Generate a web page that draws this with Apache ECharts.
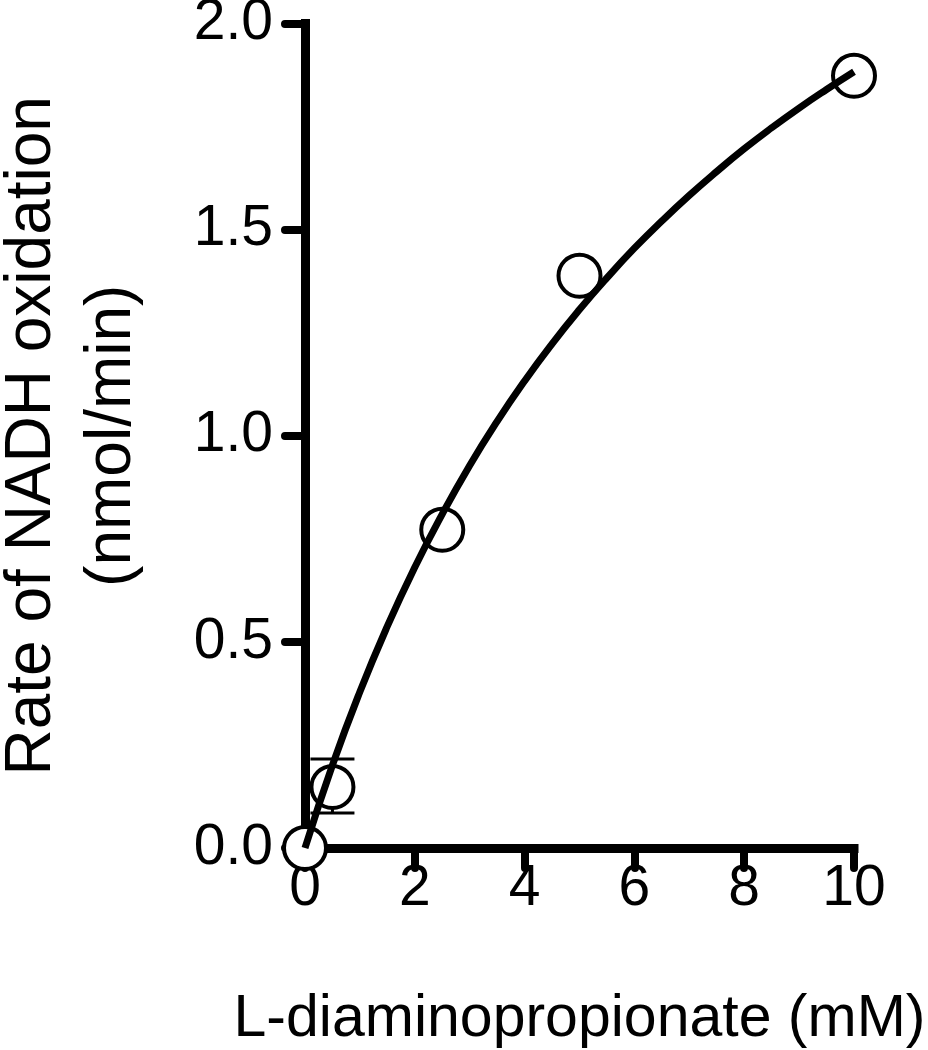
<!DOCTYPE html>
<html>
<head>
<meta charset="utf-8">
<script src="https://cdn.jsdelivr.net/npm/echarts@6/dist/echarts.min.js"></script>
<style>
  html, body { margin: 0; padding: 0; background: #fff; }
  #chart { width: 928px; height: 1050px; }
</style>
</head>
<body>
<div id="chart"></div>
<script>
// measured points (mean) and error bar at 0.5 mM
var concX = [0, 0.5, 2.5, 5, 10];
var rateY = [0, 0.148, 0.772, 1.388, 1.873];
var errBars = [[0.5, 0.085, 0.216]];

// fitted curve
var fitX = [0, 0.5, 1, 1.5, 2, 2.5, 3, 3.5, 4, 4.5, 5, 5.5, 6, 6.5, 7, 7.5, 8, 8.5, 9, 9.5, 10];
var fitY = [0, 0.201, 0.379, 0.538, 0.681, 0.810, 0.928, 1.035, 1.133, 1.223, 1.306,
            1.383, 1.455, 1.521, 1.583, 1.641, 1.696, 1.747, 1.795, 1.840, 1.883];

var xTicks = [0, 2, 4, 6, 8, 10];
var yTicks = [0.0, 0.5, 1.0, 1.5, 2.0];

var FONT = '"Liberation Sans", Arial, sans-serif';

function drawChart(ElementId) {
    var myChart = echarts.init(document.getElementById(ElementId));

    var option = {
        backgroundColor: '#fff',
        animation: false,
        grid: {
            left: 305,
            right: 74,
            top: 23.5,
            bottom: 202,
            containLabel: false,
            outerBoundsMode: 'none'
        },
        xAxis: {
            type: 'value',
            min: xTicks[0],
            max: xTicks[xTicks.length - 1],
            interval: 2,
            name: 'L-diaminopropionate (mM)',
            nameLocation: 'middle',
            nameGap: 142,
            nameTextStyle: { fontFamily: FONT, fontSize: 59, color: '#000' },
            splitLine: { show: false },
            axisLine: { lineStyle: { color: '#000', width: 9, cap: 'square' } },
            axisTick: { length: 20, lineStyle: { color: '#000', width: 8, cap: 'round' } },
            axisLabel: { margin: 13, fontFamily: FONT, fontSize: 57, color: '#000' }
        },
        yAxis: {
            type: 'value',
            min: yTicks[0],
            max: yTicks[yTicks.length - 1],
            interval: 0.5,
            name: 'Rate of NADH oxidation\n(nmol/min)',
            nameLocation: 'middle',
            nameRotate: 90,
            nameGap: 153,
            nameTextStyle: { fontFamily: FONT, fontSize: 64, color: '#000', lineHeight: 80 },
            splitLine: { show: false },
            axisLine: { lineStyle: { color: '#000', width: 9, cap: 'square' } },
            axisTick: { length: 20, lineStyle: { color: '#000', width: 8, cap: 'round' } },
            axisLabel: {
                margin: 32, fontFamily: FONT, fontSize: 57, color: '#000',
                formatter: function (v) { return v.toFixed(1); }
            }
        },
        series: [
            {
                // error bars
                type: 'custom',
                z: 3,
                data: errBars,
                renderItem: function (params, api) {
                    var top = api.coord([api.value(0), api.value(2)]);
                    var bot = api.coord([api.value(0), api.value(1)]);
                    var hw = 22;
                    var st = { stroke: '#000', lineWidth: 3 };
                    return {
                        type: 'group',
                        children: [
                            { type: 'line', shape: { x1: top[0], y1: top[1], x2: bot[0], y2: bot[1] }, style: st },
                            { type: 'line', shape: { x1: top[0] - hw, y1: top[1], x2: top[0] + hw, y2: top[1] }, style: st },
                            { type: 'line', shape: { x1: bot[0] - hw, y1: bot[1], x2: bot[0] + hw, y2: bot[1] }, style: st }
                        ]
                    };
                }
            },
            {
                type: 'scatter',
                z: 4,
                clip: false,
                symbol: 'circle',
                symbolSize: 42,
                itemStyle: { color: '#fff', borderColor: '#000', borderWidth: 4, opacity: 1 },
                emphasis: { disabled: true },
                data: concX.map(function (x, i) { return [x, rateY[i]]; })
            },
            {
                type: 'line',
                z: 5,
                smooth: true,
                showSymbol: false,
                symbol: 'none',
                clip: false,
                lineStyle: { color: '#000', width: 7, cap: 'butt', join: 'round' },
                data: fitX.map(function (x, i) { return [x, fitY[i]]; })
            }
        ]
    };
    myChart.setOption(option);
}

drawChart('chart');
</script>
</body>
</html>
